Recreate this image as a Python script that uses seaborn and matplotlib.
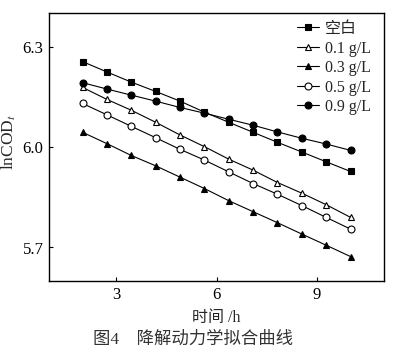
import matplotlib
matplotlib.use("Agg")
import matplotlib.pyplot as plt
import seaborn as sns
import pandas as pd

sns.set_theme(style="ticks")
plt.rcParams['font.family'] = ['Liberation Serif', 'Noto Sans CJK SC', 'DejaVu Sans']
plt.rcParams['mathtext.fontset'] = 'stix'

time_h = [2.00, 2.73, 3.45, 4.18, 4.91, 5.64, 6.36, 7.09, 7.82, 8.55, 9.27, 10.00]
blank = [6.255, 6.224, 6.194, 6.166, 6.137, 6.104, 6.074, 6.044, 6.014, 5.985, 5.956, 5.927]
c01 = [6.178, 6.142, 6.110, 6.074, 6.036, 6.001, 5.964, 5.931, 5.894, 5.862, 5.828, 5.790]
c03 = [6.044, 6.010, 5.975, 5.944, 5.910, 5.876, 5.840, 5.807, 5.774, 5.740, 5.707, 5.673]
c05 = [6.130, 6.096, 6.062, 6.028, 5.993, 5.961, 5.926, 5.891, 5.859, 5.825, 5.790, 5.755]
c09 = [6.192, 6.173, 6.155, 6.137, 6.118, 6.101, 6.083, 6.065, 6.045, 6.026, 6.009, 5.990]
labels = ["空白", "0.1 g/L", "0.3 g/L", "0.5 g/L", "0.9 g/L"]
xticks = [3, 6, 9]
yticks = [5.7, 6.0, 6.3]

series = [blank, c01, c03, c05, c09]
markers = ['s', '^', '^', 'o', 'o']
faces = ['black', 'white', 'black', 'white', 'black']

fig = plt.figure(figsize=(4.18, 3.6), dpi=100)
ax = fig.add_axes([49/418, 1-281/360, (384-49)/418, (281-13)/360])

for vals, lab, mk, fc in zip(series, labels, markers, faces):
    df = pd.DataFrame({"t": time_h, "v": vals})
    sns.lineplot(data=df, x="t", y="v", ax=ax, color='black', linewidth=0.8,
                 marker=mk, markersize=5, markerfacecolor=fc,
                 markeredgecolor='black', markeredgewidth=0.8, label=lab)

ax.set_xlim(1, 11)
ax.set_ylim(5.6, 6.4)
ax.set_xticks(xticks)
ax.set_yticks(yticks)
ax.set_yticklabels([f"{v:.1f}" for v in yticks])
ax.tick_params(direction='in', length=3, width=0.8, labelsize=12, colors='black', pad=4)
for s in ax.spines.values():
    s.set_visible(True)
    s.set_linewidth(1.0)
    s.set_color('black')
ax.set_xlabel("")
ax.set_ylabel("")

fig.text(9/418, 1-142/360, "lnCOD$_{t}$", rotation=90, ha='center', va='center', fontsize=12.5)
fig.text(216/418, 1-318/360, "时间 /h", ha='center', va='center', fontsize=11.5)
fig.text(193/418, 1-340/360, "图4    降解动力学拟合曲线", ha='center', va='center', fontsize=12.5, color='#333333')

leg = ax.legend(loc='upper left', bbox_to_anchor=(297/418, 1-21/360), bbox_transform=fig.transFigure,
                frameon=False, fontsize=11.5, handlelength=1.4, handletextpad=0.35,
                labelspacing=0.22, borderpad=0, borderaxespad=0)

fig.savefig("out.png", dpi=100, facecolor='white')
